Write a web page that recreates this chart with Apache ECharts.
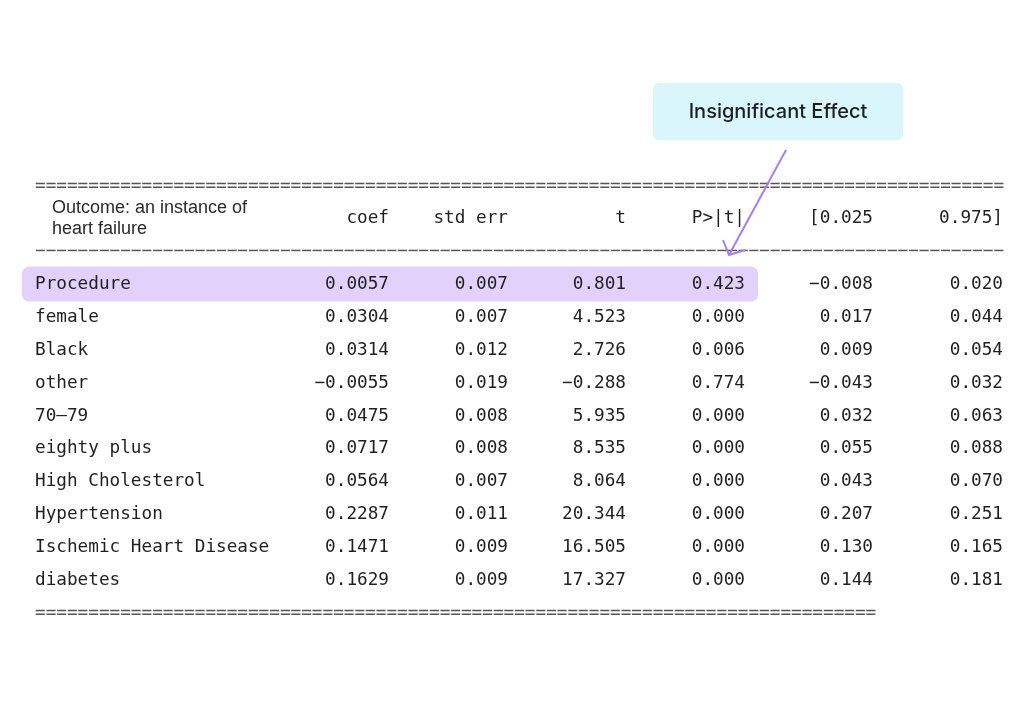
<!DOCTYPE html>
<html>
<head>
<meta charset="utf-8">
<script src="https://cdn.jsdelivr.net/npm/echarts@6/dist/echarts.min.js"></script>
<style>html,body{margin:0;padding:0;background:#fff}#c{width:1024px;height:728px}</style>
</head>
<body>
<div id="c"></div>
<script>
// ---- data ----
const rowNames = ['Procedure','female','Black','other','70\u201379','eighty plus','High Cholesterol','Hypertension','Ischemic Heart Disease','diabetes'];
const coef   = [0.0057, 0.0304, 0.0314, -0.0055, 0.0475, 0.0717, 0.0564, 0.2287, 0.1471, 0.1629];
const stdErr = [0.007, 0.007, 0.012, 0.019, 0.008, 0.008, 0.007, 0.011, 0.009, 0.009];
const tStat  = [0.801, 4.523, 2.726, -0.288, 5.935, 8.535, 8.064, 20.344, 16.505, 17.327];
const pValue = [0.423, 0.000, 0.006, 0.774, 0.000, 0.000, 0.000, 0.000, 0.000, 0.000];
const ciLow  = [-0.008, 0.017, 0.009, -0.043, 0.032, 0.055, 0.043, 0.207, 0.130, 0.144];
const ciHigh = [0.020, 0.044, 0.054, 0.032, 0.063, 0.088, 0.070, 0.251, 0.165, 0.181];
const columnHeaders = ['coef','std err','t','P>|t|','[0.025','0.975]'];
const headerTitle = 'Outcome: an instance of\nheart failure';
const highlightRow = 'Procedure';
const annotationText = 'Insignificant Effect';

// ---- layout ----
const columns = [coef, stdErr, tStat, pValue, ciLow, ciHigh];
const decimals = [4, 3, 3, 3, 3, 3];
const colRight = [389, 508, 626, 745, 873, 1003];
const nameLeft = 35;
const lineKeys = ['ruleTop', 'header', 'ruleMid'].concat(rowNames, ['ruleBottom']);
const MONO = '"DejaVu Sans Mono", monospace';
const fmt = (v, d) => v.toFixed(d).replace('-', '\u2212');

function textSeries(items, labelStyle) {
  return {
    type: 'scatter', symbolSize: 0, silent: true, z: 5,
    itemStyle: { opacity: 1 },
    data: items,
    label: Object.assign({
      show: true, position: 'inside', verticalAlign: 'middle', opacity: 1,
      fontFamily: MONO, fontSize: 17.7, color: '#1f1f1f',
      formatter: p => p.data.text
    }, labelStyle),
    emphasis: { disabled: true }
  };
}

const series = [];
series.push(textSeries(rowNames.map(n => ({ value: [nameLeft, n], text: n })), { align: 'left' }));
columns.forEach((col, c) => {
  series.push(textSeries(col.map((v, i) => ({ value: [colRight[c], rowNames[i]], text: fmt(v, decimals[c]) })), { align: 'right' }));
});
series.push(textSeries(columnHeaders.map((h, c) => ({ value: [colRight[c], 'header'], text: h })), { align: 'right' }));
series.push(textSeries([{ value: [52, 'header'], text: headerTitle }], {
  align: 'left', fontFamily: '"Liberation Sans", Arial, sans-serif', fontSize: 18, lineHeight: 21, color: '#2a2a2a'
}));
const ruleStyle = { align: 'left', color: '#555' };
series.push(textSeries([
  { value: [nameLeft, 'ruleTop'], text: '='.repeat(91) },
  { value: [nameLeft, 'ruleMid'], text: '\u2212'.repeat(91) },
  { value: [nameLeft, 'ruleBottom'], text: '='.repeat(79) }
], ruleStyle));

const chart = echarts.init(document.getElementById('c'), null, { renderer: 'canvas' });
chart.setOption({
  animation: false,
  backgroundColor: '#fff',
  grid: { left: 0, right: 0, top: 169.6, height: 459.9 },
  xAxis: { type: 'value', min: 0, max: 1024, show: false },
  yAxis: { type: 'category', data: lineKeys, inverse: true, show: false },
  series: series
});

// highlight band + annotation
const yc = chart.convertToPixel({ gridIndex: 0 }, [0, highlightRow])[1];
const tip = [729, 255], tail = [786, 150];
chart.setOption({
  graphic: [
    { type: 'rect', z: 1, shape: { x: 22, y: yc - 18, width: 736, height: 35, r: 7 }, style: { fill: '#e2d1fb' } },
    { type: 'rect', z: 10, shape: { x: 653, y: 83, width: 250, height: 57, r: 6 }, style: { fill: '#d9f6fc' } },
    { type: 'text', z: 11, x: 778, y: 112, style: { text: annotationText, fill: '#1e1e1e', font: '500 20px Inter, sans-serif', align: 'center', verticalAlign: 'middle' } },
    { type: 'line', z: 12, shape: { x1: tail[0], y1: tail[1], x2: tip[0], y2: tip[1] }, style: { stroke: '#a57ff3', lineWidth: 2 } },
    { type: 'polyline', z: 12, shape: { points: [[723, 240], tip, [745, 250]] }, style: { stroke: '#a57ff3', lineWidth: 2, fill: null } }
  ]
});
</script>
</body>
</html>
